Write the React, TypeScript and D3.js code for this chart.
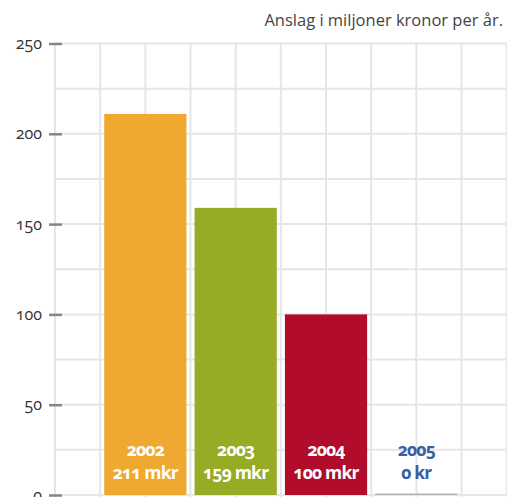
import React, { useEffect, useRef } from "react";
import * as d3 from "d3";

// values
const years = ["2002", "2003", "2004", "2005"];
const values = [211, 159, 100, 0];
const valueLabels = ["211 mkr", "159 mkr", "100 mkr", "0 kr"];
const barColors = ["#efa830", "#97ab25", "#b10c2b", "#b4b4b4"];
const labelColors = ["#ffffff", "#ffffff", "#ffffff", "#3c5da3"];
const yTicks = [0, 50, 100, 150, 200, 250];
const title = "Anslag i miljoner kronor per år.";

const W = 507;
const H = 497;
const FONT = "'Open Sans', 'Noto Sans', sans-serif";

export default function App() {
  const ref = useRef<SVGSVGElement | null>(null);

  useEffect(() => {
    const svg = d3.select(ref.current);
    svg.selectAll("*").remove();

    const left = 55;
    const right = 506.7;
    const top = 43.5;
    const bottom = 495;

    // grid columns: 10 columns across the plot
    const gx = d3.scaleLinear().domain([0, 10]).range([left, right]);
    const y = d3.scaleLinear().domain([0, 250]).range([bottom, top]);

    const x = d3
      .scaleBand<string>()
      .domain(years)
      .range([gx(1), gx(9)])
      .paddingInner(0.09)
      .paddingOuter(0.045);

    const grid = svg.append("g");
    // vertical lines
    grid
      .selectAll("line.v")
      .data(d3.range(0, 11))
      .enter()
      .append("line")
      .attr("x1", (d) => gx(d))
      .attr("x2", (d) => gx(d))
      .attr("y1", top)
      .attr("y2", H)
      .attr("stroke", "#e6e6e8")
      .attr("stroke-width", 2);
    // horizontal lines every 25
    grid
      .selectAll("line.h")
      .data(d3.range(0, 251, 25))
      .enter()
      .append("line")
      .attr("x1", left)
      .attr("x2", W)
      .attr("y1", (d) => y(d))
      .attr("y2", (d) => y(d))
      .attr("stroke", "#e6e6e8")
      .attr("stroke-width", 2);

    // bars
    svg
      .append("g")
      .selectAll("rect")
      .data(values)
      .enter()
      .append("rect")
      .attr("x", (d, i) => x(years[i])!)
      .attr("width", x.bandwidth())
      .attr("y", (d) => Math.min(y(d), bottom - 1.5))
      .attr("height", (d) => Math.max(bottom - y(d), 1.5))
      .attr("fill", (d, i) => barColors[i]);

    // labels inside bars
    const lab = svg
      .append("g")
      .selectAll("text")
      .data(years)
      .enter()
      .append("text")
      .attr("text-anchor", "middle")
      .attr("font-family", FONT)
      .attr("font-weight", 700)
      .attr("font-size", 17.5)
      .attr("letter-spacing", -0.8)
      .style("font-variant-numeric", "oldstyle-nums")
      .attr("fill", (d, i) => labelColors[i]);
    lab
      .append("tspan")
      .attr("x", (d) => x(d)! + x.bandwidth() / 2)
      .attr("y", 456)
      .text((d) => d);
    lab
      .append("tspan")
      .attr("x", (d) => x(d)! + x.bandwidth() / 2)
      .attr("y", 479)
      .text((d, i) => valueLabels[i]);

    // y axis ticks
    const yAxis = svg
      .append("g")
      .attr("transform", `translate(${left + 7},0)`)
      .call(d3.axisLeft(y).tickValues(yTicks).tickSize(13).tickPadding(7));
    yAxis.select(".domain").remove();
    yAxis.selectAll(".tick line").attr("stroke", "#868686").attr("stroke-width", 2.5);
    yAxis
      .selectAll(".tick text")
      .attr("font-family", FONT)
      .attr("font-size", 16)
      .attr("fill", "#333")
      .style("font-variant-numeric", "oldstyle-nums");

    svg
      .append("text")
      .attr("x", 503)
      .attr("y", 26)
      .attr("text-anchor", "end")
      .attr("font-family", FONT)
      .attr("font-size", 16.5)
      .attr("fill", "#444")
      .text(title);
  }, []);

  return (
    <svg
      ref={ref}
      width={W}
      height={H}
      style={{ position: "absolute", left: 0, top: 0, background: "#fff" }}
    />
  );
}
